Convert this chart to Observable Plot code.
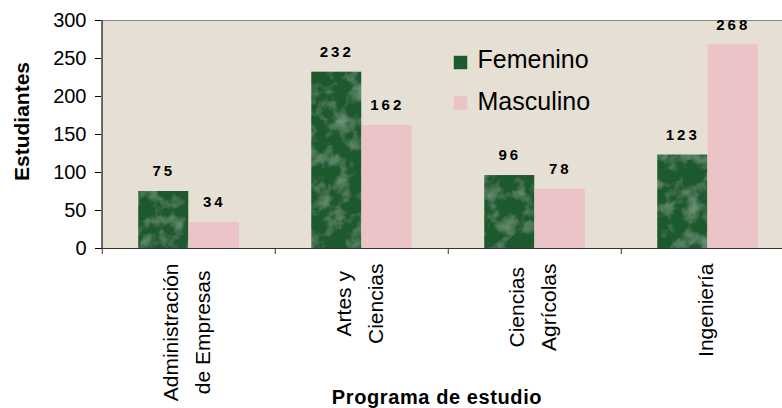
<!DOCTYPE html>
<html><head><meta charset="utf-8">
<script src="https://cdn.jsdelivr.net/npm/d3@7"></script>
<script src="https://cdn.jsdelivr.net/npm/@observablehq/plot@0.6"></script>
<style>
html,body{margin:0;padding:0;background:#fff;overflow:hidden}
#chart svg{display:block;overflow:hidden !important;background:#fff}
</style>
</head><body><div id="chart"></div>
<script>
const categories = ["Administración de Empresas","Artes y Ciencias","Ciencias Agrícolas","Ingeniería"];
const categoryLabels = ["Administración\nde Empresas","Artes y\nCiencias","Ciencias\nAgrícolas","Ingeniería"];
const series = ["Femenino","Masculino"];
const femenino = [75,232,96,123];
const masculino = [34,162,78,268];
const yTicks = [0,50,100,150,200,250,300];
const colors = ["#1e5a2f","#ecc4c8"];
const yTitle = "Estudiantes";
const xTitle = "Programa de estudio";

const W = 782, H = 408, mL = 101, mR = -13, mT = 20, mB = 160;
const step = (W - mL - mR) / categories.length;
const bw = 50.5;
const outer = (step - 2 * bw) / 2;

const rows = [];
categories.forEach((c, i) => {
  rows.push({cat: c, s: series[0], v: femenino[i]});
  rows.push({cat: c, s: series[1], v: masculino[i]});
});
const rowsF = rows.filter(d => d.s === series[0]);
const rowsM = rows.filter(d => d.s === series[1]);

const marks = [
  Plot.frame({fill: "#e6dfd3", stroke: "#8a8a8a", ariaDescription: "plot-bg"}),
  Plot.barY(rowsF, {x: "cat", y: "v", fill: colors[0], insetLeft: outer, insetRight: step - outer - bw, ariaDescription: "bars-f"}),
  Plot.barY(rowsM, {x: "cat", y: "v", fill: colors[1], insetLeft: outer + bw, insetRight: outer, ariaDescription: "bars-m"}),
  Plot.text(rowsF, {x: "cat", y: "v", text: d => String(d.v), dx: -bw / 2, dy: -20, fontWeight: "bold", fontSize: 15, fill: "#000", textAnchor: "middle", lineAnchor: "middle", ariaDescription: "value-labels"}),
  Plot.text(rowsM, {x: "cat", y: "v", text: d => String(d.v), dx: bw / 2, dy: -20, fontWeight: "bold", fontSize: 15, fill: "#000", textAnchor: "middle", lineAnchor: "middle", ariaDescription: "value-labels"}),
  Plot.ruleY([0], {stroke: "#333"}),
  Plot.ruleX([categories[0]], {x: d => d, dx: -step / 2, stroke: "#333"}),
  Plot.ruleX(categories, {x: d => d, dx: -step / 2, insetTop: H - mT - mB, insetBottom: -6, stroke: "#333"}),
  Plot.text(categories, {x: d => d, text: (d, i) => categoryLabels[i], frameAnchor: "bottom", rotate: -90, textAnchor: "middle", lineAnchor: "middle", lineHeight: 1.5, fontSize: 21, fill: "#000", ariaDescription: "cat-labels"}),
  Plot.text([yTitle], {frameAnchor: "left", rotate: -90, dx: -79, dy: -13, textAnchor: "middle", lineAnchor: "middle", fontWeight: "bold", fontSize: 21, fill: "#000"}),
  Plot.text([xTitle], {frameAnchor: "bottom", dx: -11.5, dy: 149, textAnchor: "middle", lineAnchor: "middle", fontWeight: "bold", fontSize: 20, fill: "#000", ariaDescription: "x-title"})
];
series.forEach((s, i) => {
  marks.push(Plot.dot([s], {frameAnchor: "top-left", dx: 359, dy: 42 + i * 40.5, symbol: "square", r: 7.6, fill: colors[i], stroke: "none"}));
  marks.push(Plot.text([s], {frameAnchor: "top-left", dx: 376, dy: 39 + i * 42, text: d => d, textAnchor: "start", lineAnchor: "middle", fontSize: 25, fill: "#000"}));
});

const svg = Plot.plot({
  width: W, height: H,
  marginLeft: mL, marginRight: mR, marginTop: mT, marginBottom: mB,
  style: {fontFamily: "'Liberation Sans', Arial, sans-serif", fontSize: "20px", color: "#000", background: "#fff"},
  x: {domain: categories, padding: 0, axis: null},
  y: {domain: [0, 300], ticks: yTicks, tickSize: 6, tickPadding: 9, label: null},
  marks
});
document.getElementById("chart").appendChild(svg);

// textures (Excel-style marble / paper fills)
const defs = d3.select(svg).insert("defs", ":first-child");
const fm = defs.append("filter").attr("id", "marbleTex").attr("x", 0).attr("y", 0).attr("width", 1).attr("height", 1);
fm.append("feTurbulence").attr("type", "fractalNoise").attr("baseFrequency", "0.06").attr("numOctaves", 4).attr("seed", 7).attr("result", "n");
fm.append("feColorMatrix").attr("in", "n").attr("type", "matrix")
  .attr("values", "0 0 0 0 0.3  0 0 0 0 0.52  0 0 0 0 0.36  0 0 0 1.1 -0.52").attr("result", "c");
fm.append("feComposite").attr("in", "c").attr("in2", "SourceGraphic").attr("operator", "atop");
const fp = defs.append("filter").attr("id", "paperTex").attr("x", 0).attr("y", 0).attr("width", 1).attr("height", 1);
fp.append("feTurbulence").attr("type", "fractalNoise").attr("baseFrequency", "0.5").attr("numOctaves", 2).attr("seed", 3).attr("result", "n");
fp.append("feColorMatrix").attr("in", "n").attr("type", "matrix")
  .attr("values", "0 0 0 0 0.6  0 0 0 0 0.58  0 0 0 0 0.54  0 0 0 3 -1.75").attr("result", "c");
fp.append("feComposite").attr("in", "c").attr("in2", "SourceGraphic").attr("operator", "atop");
d3.select(svg).selectAll('g[aria-description="bars-f"] rect').attr("filter", "url(#marbleTex)");
d3.select(svg).selectAll('g[aria-description="plot-bg"] rect').attr("filter", "url(#paperTex)");

d3.select(svg).selectAll('g[aria-description="value-labels"] text').style("letter-spacing", "3px");
d3.select(svg).selectAll('g[aria-description="x-title"] text').style("letter-spacing", "0.6px");
d3.select(svg).selectAll('g[aria-description="cat-labels"] text').each(function() {
  const tspans = this.querySelectorAll("tspan");
  const maxLen = tspans.length ? Math.max(...Array.from(tspans, t => t.getComputedTextLength())) : this.getComputedTextLength();
  const tr = this.getAttribute("transform") || "";
  const m = /translate\(\s*([-\d.e]+)[,\s]+([-\d.e]+)\s*\)/.exec(tr);
  if (m) {
    const newY = (H - mB) + 15 + maxLen / 2;
    this.setAttribute("transform", `translate(${+m[1] - 5},${newY}) rotate(-90)`);
  }
});
</script>
</body></html>
